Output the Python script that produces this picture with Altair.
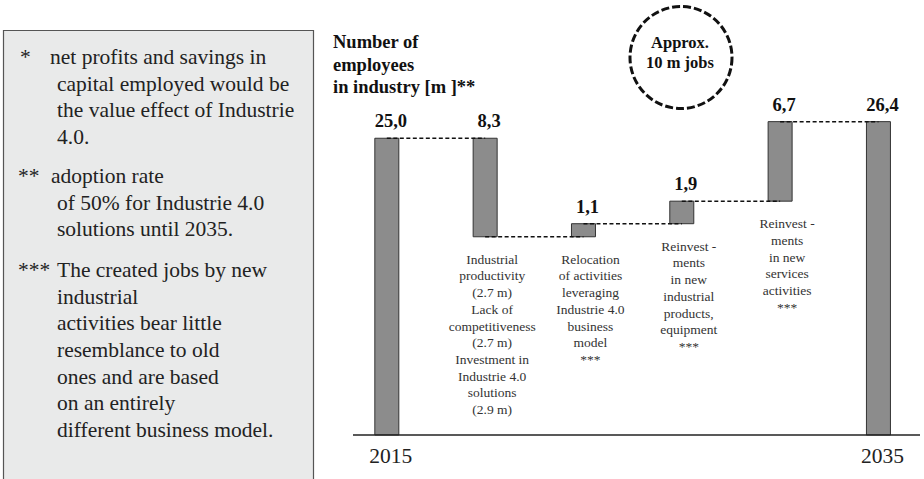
import altair as alt
import pandas as pd

# ---------------- data ----------------
categories = ["2015", "Industrial productivity", "Relocation", "Reinvest products",
              "Reinvest services", "2035"]
deltas = [25.0, -8.3, 1.1, 1.9, 6.7, 26.4]
is_total = [True, False, False, False, False, True]
value_labels = ["25,0", "8,3", "1,1", "1,9", "6,7", "26,4"]
year_labels = ["2015", "", "", "", "", "2035"]
desc_lines = [
    [],
    ["Industrial", "productivity", "(2.7 m)", "Lack of", "competitiveness", "(2.7 m)",
     "Investment in", "Industrie 4.0", "solutions", "(2.9 m)"],
    ["Relocation", "of activities", "leveraging", "Industrie 4.0", "business", "model", "***"],
    ["Reinvest -", "ments", "in new", "industrial", "products,", "equipment", "***"],
    ["Reinvest -", "ments", "in new", "services", "activities", "***"],
    [],
]
title_lines = ["Number of", "employees", "in industry [m ]**"]
circle_lines = ["Approx.", "10 m jobs"]
note_symbols = ["*", "**", "***"]
note_first = ["net profits and savings in", "adoption rate", "The created jobs by new"]
note_rest = [
    ["capital employed would be", "the value effect of Industrie", "4.0."],
    ["of 50% for Industrie 4.0", "solutions until 2035."],
    ["industrial", "activities bear little", "resemblance to old", "ones and are based",
     "on an entirely", "different business model."],
]

# ---------------- derived table ----------------
rows = []
running = 0.0
for i, (c, d, tot) in enumerate(zip(categories, deltas, is_total)):
    if tot:
        start, end = 0.0, d
    else:
        start, end = running, running + d
    running = end
    rows.append(dict(idx=i, cat=c, start=start, end=end, top=max(start, end),
                     bottom=min(start, end), label=value_labels[i],
                     desc="\n".join(desc_lines[i]), year=year_labels[i], zero=0.0))
df = pd.DataFrame(rows)
conn = pd.DataFrame([dict(x0=r["idx"], x1=r["idx"] + 1, level=r["end"])
                     for r in rows[:-1]])
one = pd.DataFrame({"a": [0]})
zero_df = pd.DataFrame({"zero": [0.0]})
years_df = df[df["year"] != ""][["idx", "year", "zero"]]

FONT = "Liberation Serif"
xs = alt.Scale(domain=[-3.8833, 5.4125], nice=False, zero=False)
ys = alt.Scale(domain=[-3.707, 36.647], nice=False, zero=False)
X = alt.X("idx:Q", scale=xs, axis=None)

# ---------------- footnote box ----------------
box = alt.Chart(one).mark_rect(fill="#e9eaea", stroke="#555555", strokeWidth=1.2).encode(
    x=alt.value(3.5), x2=alt.value(313.5), y=alt.value(30.5), y2=alt.value(500))

note_layers = []
first_x = [50, 51, 57]
sym_x = [20, 18, 18]
base_y = [64, 183, 277]
LH = 26.7
NFS = 21.5
for k in range(3):
    note_layers.append(alt.Chart(one).mark_text(
        font=FONT, fontSize=NFS, align="left", baseline="alphabetic", color="#222",
        text=note_symbols[k]).encode(x=alt.value(sym_x[k]), y=alt.value(base_y[k])))
    note_layers.append(alt.Chart(one).mark_text(
        font=FONT, fontSize=NFS, align="left", baseline="alphabetic", color="#222",
        text=note_first[k]).encode(x=alt.value(first_x[k]), y=alt.value(base_y[k])))
    note_layers.append(alt.Chart(one).mark_text(
        font=FONT, fontSize=NFS, align="left", baseline="alphabetic", color="#222",
        lineHeight=LH, lineBreak="\n", text="\n".join(note_rest[k])).encode(
        x=alt.value(57), y=alt.value(base_y[k] + LH)))

# ---------------- title & circle ----------------
title = alt.Chart(one).mark_text(
    font=FONT, fontSize=18.5, fontWeight="bold", align="left", baseline="alphabetic",
    color="#111", lineHeight=22.5, lineBreak="\n", text="\n".join(title_lines)).encode(
    x=alt.value(333), y=alt.value(48))

circle = alt.Chart(one).mark_point(
    shape="circle", size=10404, filled=False, stroke="#111", strokeWidth=3,
    strokeDash=[8, 3], opacity=1).encode(x=alt.value(681), y=alt.value(57.5))
circle_text = alt.Chart(one).mark_text(
    font=FONT, fontSize=16.5, fontWeight="bold", align="center", baseline="alphabetic",
    color="#111", lineHeight=20, lineBreak="\n", text="\n".join(circle_lines)).encode(
    x=alt.value(680), y=alt.value(48))

# ---------------- waterfall ----------------
base = alt.Chart(df)
bars = base.mark_bar(size=24, fill="#8c8c8c", stroke="#333333", strokeWidth=1).encode(
    x=X, y=alt.Y("start:Q", scale=ys, axis=None), y2="end:Q")

connectors = alt.Chart(conn).mark_rule(
    strokeDash=[4, 2.5], color="#111", strokeWidth=1.5).encode(
    x=alt.X("x0:Q", scale=xs, axis=None), x2="x1:Q",
    y=alt.Y("level:Q", scale=ys, axis=None))

axis_line = alt.Chart(zero_df).mark_rule(color="#222", strokeWidth=1.5).encode(
    x=alt.value(353), x2=alt.value(920), y=alt.Y("zero:Q", scale=ys, axis=None))

vlabels = base.mark_text(
    font=FONT, fontSize=18.5, fontWeight="bold", align="center", baseline="alphabetic",
    dx=4, dy=-11, color="#111").encode(
    x=X, y=alt.Y("top:Q", scale=ys, axis=None), text="label:N")

descs = base.mark_text(
    font=FONT, fontSize=13.5, align="center", baseline="alphabetic", dx=7, dy=27,
    lineHeight=16.7, lineBreak="\n", color="#333").encode(
    x=X, y=alt.Y("bottom:Q", scale=ys, axis=None), text="desc:N")

years = alt.Chart(years_df).mark_text(
    font=FONT, fontSize=21.5, align="center", baseline="alphabetic", dx=4, dy=28,
    color="#222").encode(
    x=X, y=alt.Y("zero:Q", scale=ys, axis=None), text="year:N")

chart = alt.layer(
    box, *note_layers, title, circle, circle_text,
    bars, connectors, axis_line, vlabels, descs, years
).properties(
    width=924, height=479, padding=0, autosize="none", background="white"
).configure_view(stroke=None)

chart.save("out.html", embed_options={"renderer": "svg", "actions": False})
